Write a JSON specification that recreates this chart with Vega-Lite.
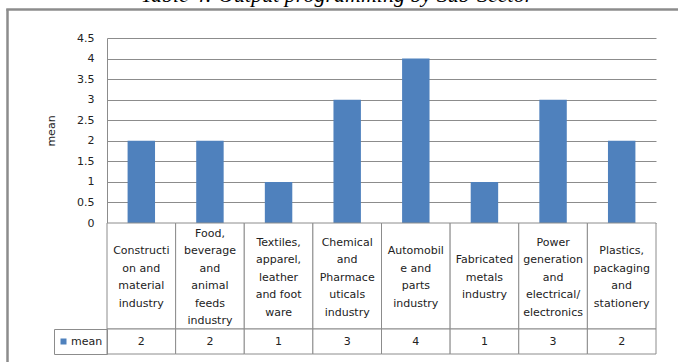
{
  "$schema": "https://vega.github.io/schema/vega-lite/v6.json",
  "padding": {"left": 6, "top": -17, "right": 0, "bottom": 0},
  "background": "white",
  "config": {
    "view": {"stroke": null},
    "font": "DejaVu Sans"
  },
  "datasets": {
    "sectors": [
      {"sector": "Construction and material industry", "label": "Constructi\non and\nmaterial\nindustry", "mean": 2},
      {"sector": "Food, beverage and animal feeds industry", "label": "Food,\nbeverage\nand\nanimal\nfeeds\nindustry", "mean": 2},
      {"sector": "Textiles, apparel, leather and foot ware", "label": "Textiles,\napparel,\nleather\nand foot\nware", "mean": 1},
      {"sector": "Chemical and Pharmaceuticals industry", "label": "Chemical\nand\nPharmace\nuticals\nindustry", "mean": 3},
      {"sector": "Automobile and parts industry", "label": "Automobil\ne and\nparts\nindustry", "mean": 4},
      {"sector": "Fabricated metals industry", "label": "Fabricated\nmetals\nindustry", "mean": 1},
      {"sector": "Power generation and electrical/electronics", "label": "Power\ngeneration\nand\nelectrical/\nelectronics", "mean": 3},
      {"sector": "Plastics, packaging and stationery", "label": "Plastics,\npackaging\nand\nstationery", "mean": 2}
    ]
  },
  "bounds": "flush",
  "spacing": 0,
  "vconcat": [
    {
      "width": 690,
      "height": 1,
      "view": {"stroke": "#8c8c8c", "strokeWidth": 1.5},
      "title": {"text": "Table 4: Output programming by Sub-Sector", "font": "Liberation Serif", "fontStyle": "italic", "fontSize": 22, "fontWeight": "normal", "color": "#000", "anchor": "middle", "frame": "group", "dx": -15, "baseline": "alphabetic", "offset": -15},
      "data": {"name": "sectors"},
      "mark": {"type": "point", "opacity": 0, "size": 0}
    },
    {
      "spacing": 36,
      "hconcat": [
        {
          "width": 1,
          "height": 420,
          "view": {"stroke": "#8c8c8c", "strokeWidth": 1.5},
          "data": {"name": "sectors"},
          "mark": {"type": "point", "opacity": 0, "size": 0}
        },
        {
          "bounds": "flush",
          "spacing": 0,
          "resolve": {"scale": {"x": "independent", "y": "independent", "color": "independent"}, "legend": {"color": "independent"}},
          "vconcat": [
            {
              "width": 549,
              "height": 28,
              "data": {"name": "sectors"},
              "mark": {"type": "point", "opacity": 0, "size": 0}
            },
            {
              "width": 549,
              "height": 185,
              "data": {"name": "sectors"},
              "mark": {"type": "bar", "color": "#4f81bd"},
              "encoding": {
                "x": {"field": "sector", "type": "nominal", "sort": null, "scale": {"paddingInner": 0.6, "paddingOuter": 0.3}, "axis": null},
                "y": {"field": "mean", "type": "quantitative", "scale": {"domain": [0, 4.5], "nice": false},
                  "axis": {"values": [0, 0.5, 1, 1.5, 2, 2.5, 3, 3.5, 4, 4.5], "format": ".1~f", "grid": true, "gridColor": "#8c8c8c", "gridWidth": 1, "gridOpacity": 1, "ticks": false, "domain": true, "domainColor": "#8c8c8c", "domainWidth": 1, "labelFont": "DejaVu Sans", "labelFontSize": 11, "labelColor": "#222", "labelPadding": 13, "title": "mean", "titleFont": "DejaVu Sans", "titleFontSize": 11, "titleFontWeight": "normal", "titleColor": "#222", "titlePadding": 20}}
              }
            },
            {
              "width": 549,
              "height": 106,
              "data": {"name": "sectors"},
              "encoding": {
                "x": {"field": "sector", "type": "nominal", "sort": null, "scale": {"paddingInner": 0, "paddingOuter": 0}, "axis": null}
              },
              "layer": [
                {"mark": {"type": "rect", "fill": "white", "stroke": "#8c8c8c", "strokeWidth": 1}},
                {"mark": {"type": "text", "lineBreak": "\n", "font": "DejaVu Sans", "fontSize": 11, "lineHeight": 17.5, "color": "#222", "baseline": "middle", "align": "center",
                  "dy": {"expr": "1.5 - (length(split(datum.label, '\\n')) - 1) * 8.75"}},
                 "encoding": {"text": {"field": "label"}}}
              ]
            },
            {
              "width": 549,
              "height": 25,
              "data": {"name": "sectors"},
              "encoding": {
                "x": {"field": "sector", "type": "nominal", "sort": null, "scale": {"paddingInner": 0, "paddingOuter": 0}, "axis": null}
              },
              "layer": [
                {"mark": {"type": "rect", "fill": "white", "stroke": "#8c8c8c", "strokeWidth": 1}},
                {"mark": {"type": "text", "font": "DejaVu Sans", "fontSize": 11, "color": "#222", "baseline": "middle", "align": "center"},
                 "encoding": {"text": {"field": "mean"}}},
                {"mark": {"type": "square", "opacity": 0},
                 "encoding": {"color": {"datum": "mean", "scale": {"range": ["#4f81bd"]},
                   "legend": {"orient": "left", "offset": 0, "title": null, "padding": 4, "clipHeight": 17, "strokeColor": "#8c8c8c", "symbolType": "square", "symbolSize": 36, "symbolOpacity": 1, "symbolStrokeWidth": 0, "labelFont": "DejaVu Sans", "labelFontSize": 11, "labelColor": "#222", "labelOffset": 2}}}}
              ]
            }
          ]
        }
      ]
    }
  ]
}
